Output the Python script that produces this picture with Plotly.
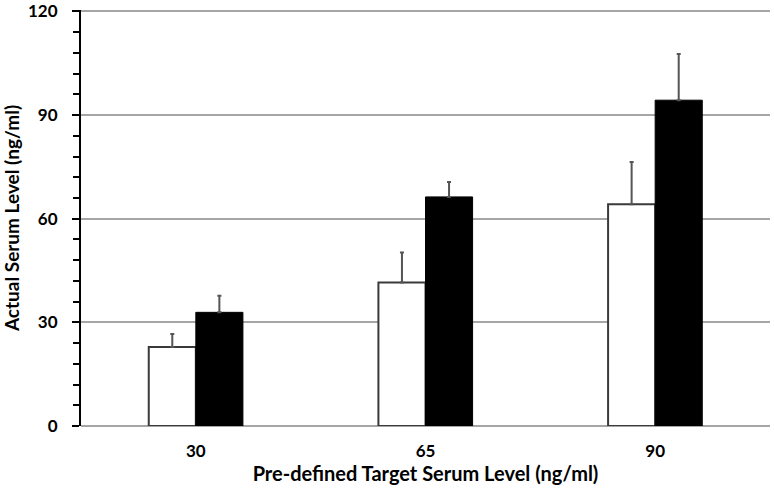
import plotly.graph_objects as go

# target serum level groups (ng/ml)
categories = ['30', '65', '90']
white_vals = [22.9, 41.5, 64.2]
white_err = [3.7, 8.7, 12.2]
black_vals = [32.9, 66.3, 94.3]
black_err = [4.8, 4.3, 13.4]
y_ticks = [0, 30, 60, 90, 120]

font_family = 'Lato, Open Sans, sans-serif'

fig = go.Figure()
fig.add_trace(go.Bar(
    x=categories, y=white_vals,
    marker=dict(color='white', line=dict(color='#3a3a3a', width=2)),
    error_y=dict(type='data', array=white_err, arrayminus=[0, 0, 0],
                 symmetric=False, color='#555555', thickness=2, width=2),
))
fig.add_trace(go.Bar(
    x=categories, y=black_vals,
    marker=dict(color='black', line=dict(color='black', width=1)),
    error_y=dict(type='data', array=black_err, arrayminus=[0, 0, 0],
                 symmetric=False, color='#555555', thickness=2, width=2),
))

fig.update_layout(
    width=774, height=499,
    margin={'l': 81, 'r': 4, 't': 10, 'b': 73, 'autoexpand': False},
    plot_bgcolor='white', paper_bgcolor='white',
    barmode='group', bargap=0.59, bargroupgap=0,
    showlegend=False,
    font=dict(family=font_family, color='black'),
)
fig.update_xaxes(
    type='category', automargin=False,
    showgrid=False, showline=False,
    ticks='outside', ticklen=10, tickcolor='rgba(0,0,0,0)',
    tickfont=dict(size=17, family=font_family, weight='bold'),
    title=dict(text='<b>Pre-defined Target Serum Level (ng/ml)</b>',
               font=dict(size=20), standoff=6),
)
fig.update_yaxes(
    range=[0, 120.4], tickvals=y_ticks, automargin=False,
    ticklabeloverflow='allow', ticklabelstandoff=11,
    showgrid=True, gridcolor='#a6a6a6', gridwidth=2,
    zeroline=True, zerolinecolor='#a6a6a6', zerolinewidth=2,
    showline=True, linecolor='black', linewidth=2,
    ticks='outside', ticklen=7, tickwidth=2, tickcolor='black',
    minor=dict(dtick=6, ticks='outside', ticklen=6, tickwidth=2,
               tickcolor='black', showgrid=False),
    tickfont=dict(size=17, family=font_family, weight='bold'),
    title=dict(text='<b>Actual Serum Level (ng/ml)</b>',
               font=dict(size=19), standoff=5),
)

# drop the default page margin so the chart sits at the window corner
fig.write_html('out.html', config={'displayModeBar': False},
               post_script="document.body.style.margin = '0';")
